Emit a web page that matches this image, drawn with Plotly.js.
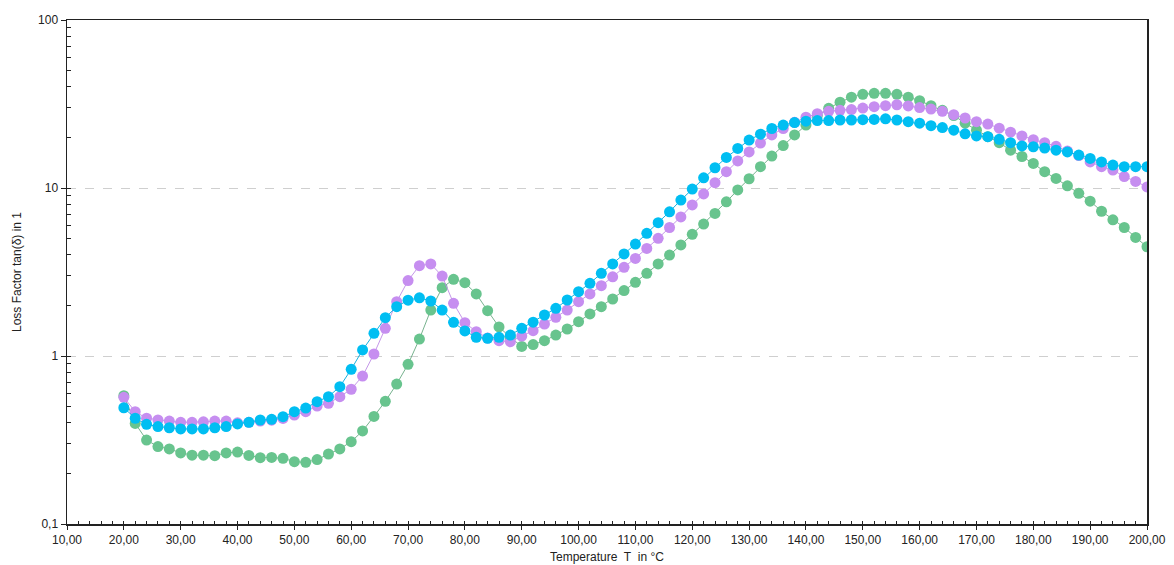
<!DOCTYPE html>
<html>
<head>
<meta charset="utf-8">
<script src="https://cdn.plot.ly/plotly-3.0.1.min.js"></script>
<style>
html,body{margin:0;padding:0;background:#fff;}
#chart{width:1174px;height:565px;}
</style>
</head>
<body>
<div id="chart"></div>
<script>
// Temperature in °C
var temperature = [20,22,24,26,28,30,32,34,36,38,40,42,44,46,48,50,52,54,56,58,60,62,64,66,68,70,72,74,76,78,80,82,84,86,88,90,92,94,96,98,100,102,104,106,108,110,112,114,116,118,120,122,124,126,128,130,132,134,136,138,140,142,144,146,148,150,152,154,156,158,160,162,164,166,168,170,172,174,176,178,180,182,184,186,188,190,192,194,196,198,200];

var seriesGreen = [0.58,0.397,0.316,0.289,0.280,0.265,0.257,0.257,0.255,0.265,0.268,0.256,0.248,0.249,0.246,0.235,0.233,0.242,0.261,0.280,
  0.309,0.358,0.437,0.537,0.681,0.892,1.262,1.878,2.55,2.86,2.73,2.34,1.86,1.49,1.29,1.14,1.17,1.233,1.333,1.448,
  1.601,1.78,1.966,2.184,2.45,2.746,3.106,3.53,3.99,4.58,5.3,6.1,7.06,8.27,9.74,11.35,13.4,15.5,17.9,20.7,
  23.7,27.0,29.8,32.4,34.7,36.1,36.6,36.6,36.1,34.7,33.1,30.9,29.0,27.0,24.3,22.1,20.2,18.6,16.8,15.4,
  14.0,12.5,11.4,10.3,9.3,8.35,7.27,6.47,5.82,5.08,4.47];

var seriesPurple = [0.568,0.466,0.426,0.416,0.410,0.403,0.403,0.406,0.410,0.410,0.400,0.403,0.410,0.415,0.425,0.445,0.466,0.504,0.523,0.573,
  0.634,0.760,1.028,1.462,2.104,2.81,3.45,3.53,2.99,2.06,1.578,1.396,1.28,1.233,1.216,1.315,1.415,1.55,1.70,1.878,
  2.104,2.34,2.62,2.96,3.37,3.81,4.37,5.02,5.82,6.73,7.93,9.22,10.76,12.5,14.5,16.4,18.5,20.7,22.6,24.6,
  26.4,27.7,28.6,29.0,29.3,29.9,30.5,30.9,31.3,30.8,30.1,29.5,28.6,27.3,26.1,24.8,24.0,22.7,21.5,20.4,
  19.4,18.6,17.7,16.6,15.6,14.3,13.4,12.8,11.7,10.95,10.15];

var seriesBlue = [0.492,0.426,0.392,0.380,0.374,0.368,0.368,0.368,0.374,0.380,0.394,0.403,0.416,0.420,0.435,0.466,0.490,0.535,0.573,0.657,
  0.833,1.086,1.365,1.69,1.967,2.15,2.22,2.125,1.878,1.587,1.409,1.292,1.274,1.292,1.333,1.462,1.59,1.754,1.922,2.154,
  2.414,2.708,3.106,3.53,4.05,4.64,5.37,6.22,7.22,8.48,9.86,11.5,13.2,15.2,17.2,19.3,20.9,22.6,23.7,24.5,
  25.0,25.2,25.2,25.4,25.4,25.5,25.6,25.8,25.4,24.8,24.3,23.5,22.9,22.1,21.0,20.4,20.2,19.5,18.6,17.8,
  17.6,17.3,16.8,16.4,15.7,15.0,14.3,13.7,13.4,13.4,13.4];

var xMajorTicks = [10,20,30,40,50,60,70,80,90,100,110,120,130,140,150,160,170,180,190,200];
var xMinorTicks = [10,12,14,16,18,20,22,24,26,28,30,32,34,36,38,40,42,44,46,48,50,52,54,56,58,60,62,64,66,68,70,72,74,76,78,80,82,84,86,88,90,92,94,96,98,100,102,104,106,108,110,112,114,116,118,120,122,124,126,128,130,132,134,136,138,140,142,144,146,148,150,152,154,156,158,160,162,164,166,168,170,172,174,176,178,180,182,184,186,188,190,192,194,196,198,200];
var yMajorTicks = [0.1,1,10,100];
var yMajorLabels = ['0,1','1','10','100'];
var yMinorTicks = [0.1,0.2,0.3,0.4,0.5,0.6,0.7,0.8,0.9,1,2,3,4,5,6,7,8,9,10,20,30,40,50,60,70,80,90,100];

var colGreen = 'rgb(104,196,142)';
var colPurple = 'rgb(198,142,240)';
var colBlue = 'rgb(0,190,242)';

function mk(y, col, lineCol, name){
  return {x: temperature, y: y, type:'scatter', mode:'lines+markers', name:name,
    line:{color:lineCol, width:1}, marker:{color:col, size:11, line:{width:0}},
    xaxis:'x', yaxis:'y', hoverinfo:'x+y'};
}
// invisible helper traces so that the minor-tick overlay axes are drawn
function helper(xa, ya){
  return {x:[temperature[0]], y:[seriesBlue[0]], type:'scatter', mode:'markers',
    marker:{opacity:0, size:1}, xaxis:xa, yaxis:ya, hoverinfo:'skip', showlegend:false};
}
var traces = [
  helper('x2','y'), helper('x','y2'),
  mk(seriesGreen, colGreen, 'rgba(104,170,130,0.9)', 'Sample 1'),
  mk(seriesPurple, colPurple, 'rgba(190,140,230,0.9)', 'Sample 2'),
  mk(seriesBlue, colBlue, 'rgba(0,170,220,0.9)', 'Sample 3')
];

var fnt = {family:'"Liberation Sans", Arial, sans-serif', size:12, color:'#222'};

var layout = {
  width:1174, height:565,
  margin:{l:67, r:27, t:20, b:41, pad:0},
  paper_bgcolor:'#fff', plot_bgcolor:'#fff',
  showlegend:false,
  separators:',.',
  font:fnt,
  xaxis:{
    range:[10,200], tickmode:'array', tickvals:xMajorTicks, tickformat:'.2f',
    ticks:'outside', ticklen:4, tickwidth:1, tickcolor:'#222',
    showline:true, linecolor:'#222', linewidth:1.5, mirror:true,
    showgrid:false, zeroline:false, tickfont:fnt,
    title:{text:'Temperature\u00a0 T\u00a0 in °C', font:fnt, standoff:6}
  },
  xaxis2:{
    overlaying:'x', anchor:'y', side:'bottom', range:[10,200], tickmode:'array', tickvals:xMinorTicks,
    ticks:'inside', ticklen:3, tickwidth:1, tickcolor:'#222',
    showticklabels:false, showgrid:false, showline:false, zeroline:false
  },
  yaxis:{
    type:'log', range:[-1,2], tickmode:'array', tickvals:yMajorTicks, ticktext:yMajorLabels,
    ticks:'outside', ticklen:5, tickwidth:1, tickcolor:'#222',
    showline:true, linecolor:'#222', linewidth:1.5, mirror:true,
    showgrid:true, gridcolor:'#cfcfcf', griddash:'dash', gridwidth:1,
    zeroline:false, tickfont:fnt,
    title:{text:'Loss Factor tan(δ) in 1', font:fnt, standoff:14}
  },
  yaxis2:{
    overlaying:'y', anchor:'x', side:'left', type:'log', range:[-1,2], tickmode:'array', tickvals:yMinorTicks,
    ticks:'inside', ticklen:4, tickwidth:1, tickcolor:'#222',
    showticklabels:false, showgrid:false, showline:false, zeroline:false
  }
};

Plotly.newPlot('chart', traces, layout, {displayModeBar:false, staticPlot:true});
</script>
</body>
</html>
